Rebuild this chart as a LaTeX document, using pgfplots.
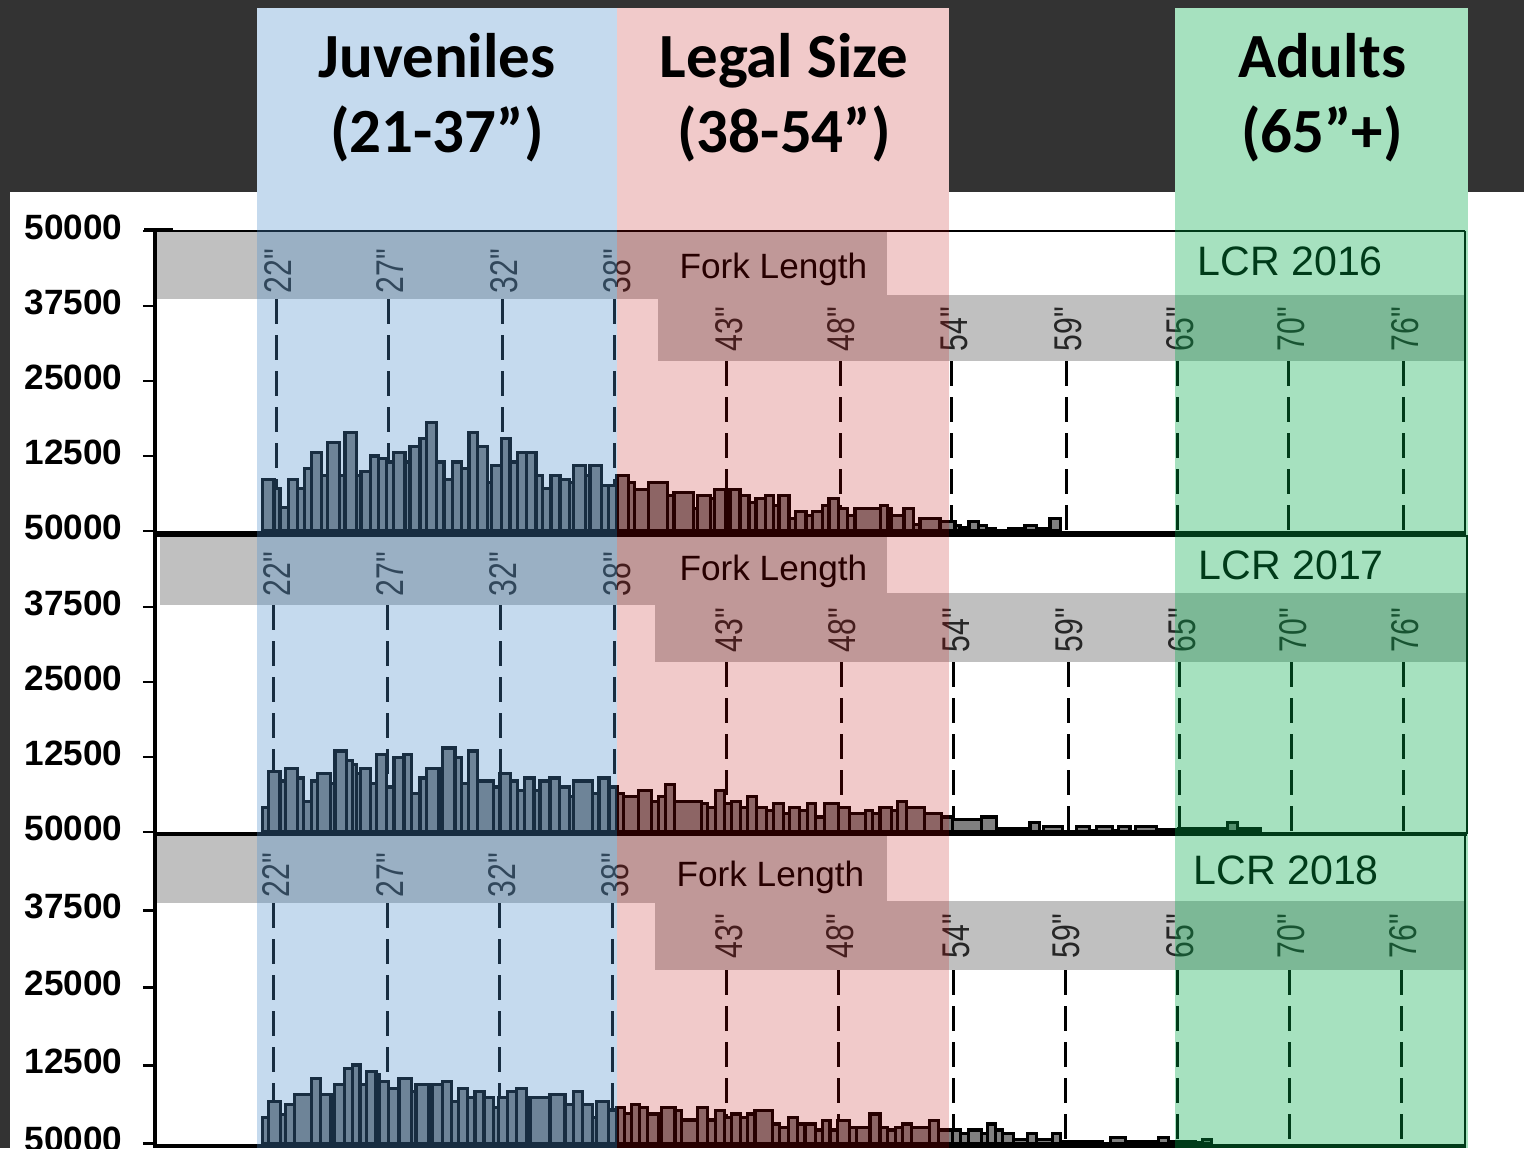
\documentclass[border=0pt]{standalone}
\usepackage{pgfplots}
\pgfplotsset{compat=1.18}
\usepackage{pgfplotstable}
\usepackage{graphicx}
\usepackage{fontspec}
\setmainfont{Liberation Sans}
\newfontfamily\labfont[Ligatures=TeXOff]{Liberation Sans}
\newfontfamily\carlito{Carlito}
\definecolor{darkbg}{HTML}{333333}
\definecolor{stripc}{HTML}{C0C0C0}
\definecolor{barfill}{HTML}{808080}
\definecolor{ovblue}{RGB}{75,143,205}
\definecolor{ovred}{RGB}{192,0,0}
\definecolor{ovgreen}{RGB}{0,171,74}

\pgfplotstableread{
x y
262.3 8600
274.0 7050
280.0 3900
288.3 8600
297.3 7050
304.3 10400
311.7 13050
321.7 9300
327.7 14750
339.3 9300
345.0 16400
356.7 9300
361.0 9850
370.7 12500
378.3 12050
386.7 11500
393.3 13050
405.0 11500
410.0 14150
420.0 15400
426.7 18050
436.7 11500
444.0 8600
452.3 11500
461.7 10400
469.0 16400
477.7 14150
487.3 8150
491.7 10850
501.7 15400
510.0 11500
517.7 13050
526.7 13050
536.0 9300
542.7 7050
551.0 9300
560.0 8600
569.3 8150
573.3 10850
585.7 9300
590.0 10850
601.7 7600
608.3 7600
617.0 9300
628.3 8050
634.3 6900
648.3 8050
667.7 5850
674.0 6400
693.3 3700
697.3 5850
710.7 5350
714.3 6900
726.0 3700
730.0 6900
740.0 5850
749.0 4800
756.0 5350
765.7 5850
773.3 4200
779.0 5850
789.0 2150
795.7 3200
806.0 2600
812.3 3200
822.3 4200
829.0 5350
838.3 3700
847.3 2600
855.0 3700
880.7 4200
887.3 3700
891.0 2600
904.0 3700
913.3 1050
920.0 2050
940.0 1600
955.0 950
960.0 550
969.0 1600
978.3 950
986.7 400
995.0 0
1008.3 400
1021.7 0
1025.0 950
1036.7 400
1050.0 2150
1060.7 0
}\panelA

\pgfplotstableread{
x y
262.3 4150
268.3 10150
280.0 8500
285.7 10650
297.7 9000
303.3 5150
311.7 8500
317.7 9700
330.7 8050
335.0 13500
346.7 11850
352.3 11300
356.7 9700
360.7 10650
370.7 8050
376.7 12900
386.7 7500
394.0 12350
404.0 12900
411.7 6400
420.0 9000
426.7 10650
439.0 9000
442.7 14000
455.0 12350
461.7 8050
468.3 13500
477.7 8500
493.3 7500
500.0 9700
510.7 8500
517.7 6850
524.3 9000
534.0 6850
540.0 8500
550.0 9000
559.3 7500
569.3 5850
573.3 8500
592.3 6400
599.0 9000
609.0 7500
617.0 6400
623.8 5850
638.8 6850
651.3 5150
658.3 5850
665.8 7950
674.2 5150
701.3 4700
707.5 4150
715.4 6850
724.2 4700
731.3 5150
740.4 4150
747.9 5850
756.3 4150
766.7 3600
773.8 4700
783.3 3050
789.6 4150
799.2 3600
807.5 4700
815.8 2500
824.2 4700
838.8 4150
849.2 3050
865.4 3600
872.9 3050
880.0 4150
891.7 3600
897.9 5150
906.3 4150
924.2 3050
941.7 2500
952.1 2050
981.3 2500
996.7 550
1030.0 1550
1039.6 0
1043.8 850
1062.5 0
1076.3 850
1089.6 300
1096.7 850
1112.5 300
1118.8 850
1130.0 0
1135.4 850
1156.3 400
1178.3 550
1227.1 1550
1237.5 550
1260.0 0
}\panelB

\pgfplotstableread{
x y
262.3 4200
268.3 6700
280.7 4650
285.7 6250
294.3 7900
311.7 10450
320.7 7900
331.0 6700
334.3 9500
344.3 12050
352.7 12600
360.0 9500
366.7 11600
376.0 11100
379.3 9950
388.3 8850
399.0 10450
411.7 8300
416.0 9500
429.0 6700
432.3 9500
442.7 9950
451.7 6700
458.3 8850
467.7 7350
475.0 8300
484.0 7350
493.3 5750
498.3 7350
507.3 8300
516.7 8850
526.7 6700
530.0 7350
550.0 7900
565.0 6250
573.3 8300
582.7 6250
592.7 4200
596.7 6700
608.3 5350
617.0 5800
624.2 4800
631.3 6300
639.6 5800
647.9 4700
658.3 4200
661.7 5800
675.0 5250
681.3 3750
697.9 5800
707.5 3750
715.4 5250
724.2 4200
731.3 4700
740.4 4200
747.9 4700
755.0 5250
772.9 3100
779.2 2550
788.3 4200
797.9 3100
805.0 3100
815.8 2150
822.9 3650
830.0 2150
837.5 3650
849.2 2550
856.3 2550
870.0 4700
880.0 2550
887.5 2150
895.8 2550
902.1 3100
911.7 2550
929.2 3650
938.3 2150
952.1 2150
960.4 1600
968.8 2150
981.3 1600
987.5 3100
995.8 2150
1002.9 1600
1013.3 650
1027.1 1600
1036.7 650
1052.1 1600
1060.4 300
1102.1 0
1110.4 950
1125.8 300
1158.3 950
1168.8 300
1195.8 150
1202.1 550
1211.7 0
}\panelC

\pgfplotsset{
  panel/.style={
    anchor=south west, scale only axis, width=131mm,
    xmin=155, xmax=1465, ymin=0, ymax=50000,
    axis line style={draw=none}, xtick=\empty,
    ytick pos=left, tick align=outside, major tick length=1.2mm,
    ytick style={line width=0.85pt, black},
    yticklabel style={font=\bfseries\fontsize{10}{12}\selectfont, inner sep=0pt, xshift=-2.0mm, yshift=0.4mm},
    scaled y ticks=false, clip=false,
  },
  bars/.style={ybar interval, fill=barfill, draw=black, line width=0.9pt},
}

\newcommand{\vlab}[3]{\node[rotate=90, anchor=west, inner sep=0pt, text=black!85, font=\labfont\fontsize{11}{12}\selectfont] at (#1,#2) {\scalebox{0.78}[1]{#3}};}

\begin{document}
\begin{tikzpicture}
\begin{scope}[x=0.1mm, y=-0.1mm, shift={(0,114.8mm)}]
  % background
  \fill[darkbg] (0,0) rectangle (1524,1148);
  \fill[white] (10,192) rectangle (1524,1148);
  \fill[white] (257,8) rectangle (949,200);
  \fill[white] (1175,8) rectangle (1468,200);
  % gray strips
  \fill[stripc] (155,231) rectangle (887,299);
  \fill[stripc] (658,295) rectangle (1465,361);
  \fill[stripc] (160,537) rectangle (887,605);
  \fill[stripc] (655,593) rectangle (1468,662);
  \fill[stripc] (157,836) rectangle (887,903);
  \fill[stripc] (655,901) rectangle (1465,970);
  % rotated length labels, panel 1
  \vlab{278}{294}{22"}\vlab{390}{294}{27"}\vlab{504}{294}{32"}\vlab{617}{294}{38"}
  \vlab{729}{352}{43"}\vlab{841}{352}{48"}\vlab{954}{352}{54"}\vlab{1068}{352}{59"}
  \vlab{1180}{352}{65"}\vlab{1291}{352}{70"}\vlab{1405}{352}{76"}
  % panel 2
  \vlab{277}{597}{22"}\vlab{390}{597}{27"}\vlab{503}{597}{32"}\vlab{617}{597}{38"}
  \vlab{729}{653}{43"}\vlab{842}{653}{48"}\vlab{956}{653}{54"}\vlab{1069}{653}{59"}
  \vlab{1182}{653}{65"}\vlab{1293}{653}{70"}\vlab{1405}{653}{76"}
  % panel 3
  \vlab{276}{898}{22"}\vlab{390}{898}{27"}\vlab{502}{898}{32"}\vlab{615}{898}{38"}
  \vlab{729}{959}{43"}\vlab{840}{959}{48"}\vlab{956}{959}{54"}\vlab{1066}{959}{59"}
  \vlab{1180}{959}{65"}\vlab{1291}{959}{70"}\vlab{1403}{959}{76"}
  % titles in strips
  \node[anchor=base west, inner sep=0pt, font=\fontsize{10}{12}\selectfont] at (679,278) {Fork Length};
  \node[anchor=base west, inner sep=0pt, font=\fontsize{10}{12}\selectfont] at (679,580) {Fork Length};
  \node[anchor=base west, inner sep=0pt, font=\fontsize{10}{12}\selectfont] at (676,886) {Fork Length};
  \node[anchor=base west, inner sep=0pt, font=\fontsize{11.7}{13}\selectfont] at (1197,275) {LCR 2016};
  \node[anchor=base west, inner sep=0pt, font=\fontsize{11.7}{13}\selectfont] at (1198,579) {LCR 2017};
  \node[anchor=base west, inner sep=0pt, font=\fontsize{11.7}{13}\selectfont] at (1193,884) {LCR 2018};
  % dashed grid lines
  \begin{scope}[line width=0.85pt, dash pattern=on 2.5mm off 1.1mm]
    \foreach \gx in {276,388,502,614} \draw (\gx,299) -- (\gx,531);
    \foreach \gx in {726,840,951,1066,1177,1288,1403} \draw (\gx,361) -- (\gx,531);
    \foreach \gx in {273,387,500,614} \draw (\gx,605) -- (\gx,832);
    \foreach \gx in {726,841,953,1068,1179,1291,1403} \draw (\gx,662) -- (\gx,832);
    \foreach \gx in {273,387,499,612} \draw (\gx,903) -- (\gx,1143);
    \foreach \gx in {726,838,953,1065,1177,1289,1401} \draw (\gx,970) -- (\gx,1143);
  \end{scope}
  % frames
  \draw[line width=0.65pt] (155,231) -- (1465,231);
  \draw[line width=0.8pt] (1465,231) -- (1465,534);
  \draw[line width=0.8pt] (1467,535) -- (1467,834);
  \draw[line width=0.9pt] (155,834.5) -- (1466,834.5);
  \draw[line width=0.8pt] (1465,835) -- (1465,1148);
  \draw[line width=0.9pt] (144,230) -- (173,230);
  \draw[line width=0.9pt] (155,230) -- (155,1148);
\end{scope}

% data panels
\begin{axis}[panel, at={(15.5mm,61.7mm)}, height=30mm,
  ytick={0,12500,25000,37500,50000}, yticklabels={50000,12500,25000,37500,50000}]
  \addplot[bars] table[x=x,y=y] {\panelA};
\end{axis}
\begin{axis}[panel, at={(15.5mm,31.6mm)}, height=30mm,
  ytick={0,12500,25000,37500}, yticklabels={50000,12500,25000,37500}]
  \addplot[bars] table[x=x,y=y] {\panelB};
\end{axis}
\begin{axis}[panel, at={(15.5mm,0.47mm)}, height=31.1mm,
  ytick={0,12500,25000,37500}, yticklabels={50000,12500,25000,37500}]
  \addplot[bars] table[x=x,y=y] {\panelC};
\end{axis}

\begin{scope}[x=0.1mm, y=-0.1mm, shift={(0,114.8mm)}]
  % baselines
  \fill[black] (155,531) rectangle (1466,537);
  \fill[black] (155,832) rectangle (1467,836);
  \fill[black] (155,1143.5) rectangle (1466,1148);
  % translucent bands
  \fill[ovblue, opacity=0.323] (257,8) rectangle (617,1148);
  \fill[ovred, opacity=0.208] (617,8) rectangle (949,1148);
  \fill[ovgreen, opacity=0.35] (1175,8) rectangle (1468,1148);
  % header
  \begin{scope}[font=\carlito\bfseries\fontsize{17.9}{21}\selectfont]
    \node[anchor=base, inner sep=0pt] at (437,78) {Juveniles};
    \node[anchor=base, inner sep=0pt] at (437,153) {(21-37”)};
    \node[anchor=base, inner sep=0pt] at (784,78) {Legal Size};
    \node[anchor=base, inner sep=0pt] at (784,153) {(38-54”)};
    \node[anchor=base, inner sep=0pt] at (1322,78) {Adults};
    \node[anchor=base, inner sep=0pt] at (1322,153) {(65”+)};
  \end{scope}
\end{scope}
\pgfresetboundingbox
\path[use as bounding box] (0,0) rectangle (152.4mm,114.8mm);
\end{tikzpicture}
\end{document}
